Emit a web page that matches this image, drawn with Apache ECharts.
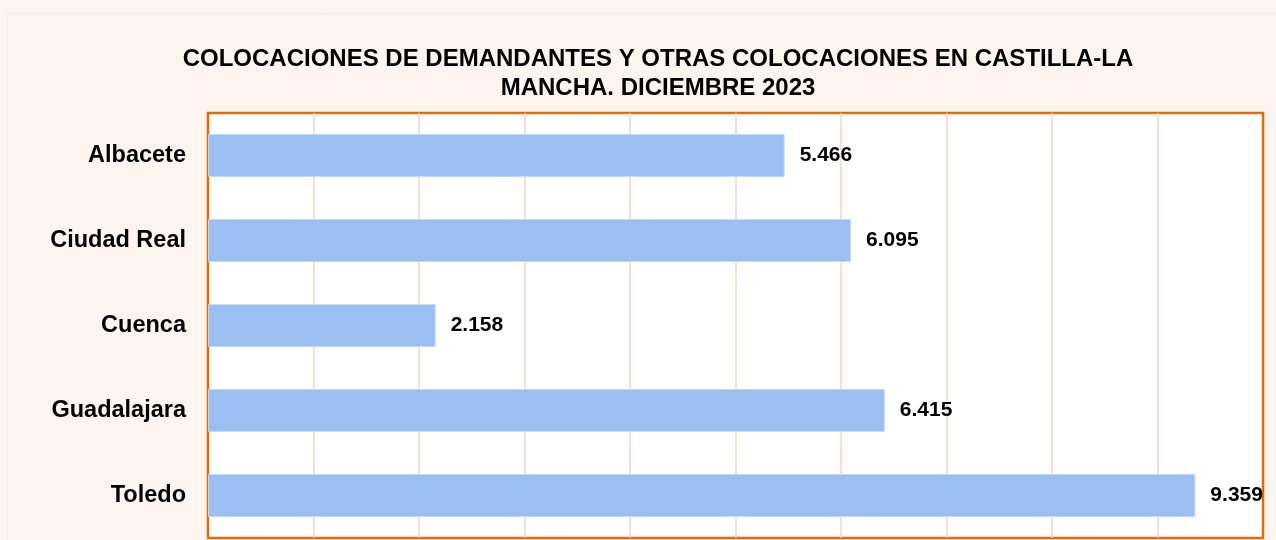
<!DOCTYPE html>
<html>
<head>
<meta charset="utf-8">
<script src="https://cdn.jsdelivr.net/npm/echarts@6/dist/echarts.min.js"></script>
<style>
  html, body { margin: 0; padding: 0; background: #fcf6f3; }
  #main { width: 1276px; height: 540px; }
</style>
</head>
<body>
<div id="main"></div>
<script>
var provincias = ['Albacete', 'Ciudad Real', 'Cuenca', 'Guadalajara', 'Toledo'];
var colocaciones = [5466, 6095, 2158, 6415, 9359];
var ejeMax = 10000;
var ejePaso = 1000;

function fmtMiles(v) {
    return String(v).replace(/\B(?=(\d{3})+(?!\d))/g, '.');
}

// lineas de rejilla: la primera y la ultima quedan bajo el borde naranja
var coloresRejilla = [];
for (var i = 0; i <= ejeMax / ejePaso; i++) {
    coloresRejilla.push(i === 0 || i === ejeMax / ejePaso ? 'rgba(0,0,0,0)' : '#fbd4b6');
}

var myChart = echarts.init(document.getElementById('main'));
var option = {
    backgroundColor: '#fcf6f3',
    animation: false,
    graphic: [{
        type: 'rect',
        left: 7,
        top: 13,
        shape: { width: 1269, height: 527 },
        style: { fill: '#fdf4ef', stroke: '#f7ece7', lineWidth: 1 },
        z: -10
    }],
    title: {
        text: 'COLOCACIONES DE DEMANDANTES Y OTRAS COLOCACIONES EN CASTILLA-LA\nMANCHA. DICIEMBRE 2023',
        left: 653,
        top: 40,
        textAlign: 'center',
        textStyle: {
            fontFamily: 'Liberation Sans, Arial, sans-serif',
            fontSize: 24,
            fontWeight: 'bold',
            color: '#000',
            lineHeight: 29
        }
    },
    grid: {
        show: true,
        left: 208,
        right: 13,
        top: 113,
        bottom: 2,
        backgroundColor: '#ffffff',
        borderColor: '#e36c0a',
        borderWidth: 2.5,
        containLabel: false
    },
    xAxis: {
        type: 'value',
        min: 0,
        max: ejeMax,
        interval: ejePaso,
        axisLabel: { show: false },
        axisLine: { show: false },
        axisTick: { show: false },
        splitLine: { show: true, lineStyle: { color: coloresRejilla, width: 1.5 } }
    },
    yAxis: {
        type: 'category',
        data: provincias,
        inverse: true,
        axisLine: { show: false },
        axisTick: { show: false },
        axisLabel: {
            margin: 22,
            fontFamily: 'Liberation Sans, Arial, sans-serif',
            fontSize: 23.5,
            fontWeight: 'bold',
            color: '#000'
        }
    },
    series: [{
        type: 'bar',
        data: colocaciones,
        barWidth: 43,
        itemStyle: {
            color: '#9bbff0',
            borderColor: '#c3d8f5',
            borderWidth: 1
        },
        label: {
            show: true,
            position: 'right',
            distance: 15,
            formatter: function (p) { return fmtMiles(p.value); },
            fontFamily: 'Liberation Sans, Arial, sans-serif',
            fontSize: 21,
            fontWeight: 'bold',
            color: '#000'
        }
    }]
};
myChart.setOption(option);
</script>
</body>
</html>
